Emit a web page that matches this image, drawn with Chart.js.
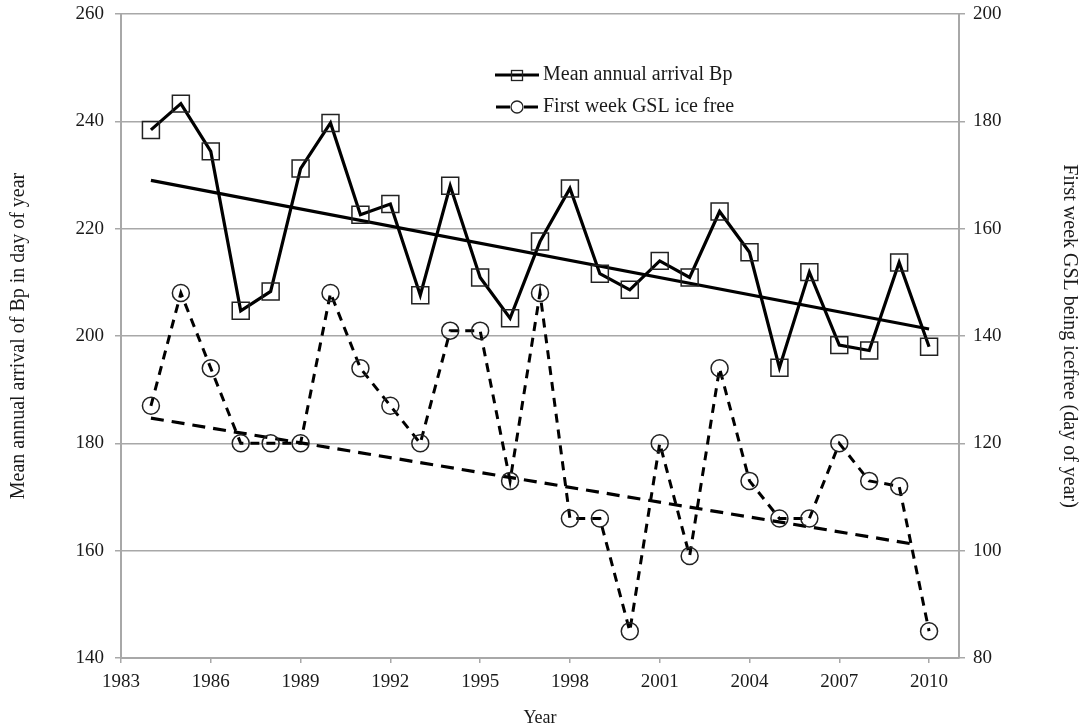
<!DOCTYPE html>
<html>
<head>
<meta charset="utf-8">
<script src="https://cdn.jsdelivr.net/npm/chart.js@4.4.1/dist/chart.umd.min.js"></script>
<style>
  html, body { margin: 0; padding: 0; background: #fff; }
  #wrap { width: 1081px; height: 727px; position: relative; }
</style>
</head>
<body>
<div id="wrap"><canvas id="c"></canvas></div>
<script>
// ---- data ----
const years = [1984,1985,1986,1987,1988,1989,1990,1991,1992,1993,1994,1995,1996,1997,1998,1999,2000,2001,2002,2003,2004,2005,2006,2007,2008,2009,2010];
const arrivalBp = [238.4,243.3,234.4,204.7,208.3,231.2,239.7,222.6,224.6,207.6,228.0,210.9,203.3,217.6,227.5,211.6,208.6,214.0,210.9,223.2,215.6,194.1,211.9,198.3,197.3,213.7,198.0];
const iceFree = [127,148,134,120,120,120,148,134,127,120,141,141,113,148,106,106,85,120,99,134,113,106,106,120,113,112,85];
const trendBpYears = [1984, 2010];
const trendBpValues = [229.0, 201.3];
const trendIceYears = [1984, 2009.5];
const trendIceValues = [124.7, 101.2];
const xTickStart = 1983, xTickEnd = 2011, xTickStep = 3;
const leftMin = 140, leftMax = 260, leftStep = 20;
const rightMin = 80, rightMax = 200, rightStep = 20;
const seriesLabels = ['Mean annual arrival Bp', 'First week GSL ice free'];
const axisTitles = { x: 'Year', left: 'Mean annual arrival of Bp in day of year', right: 'First week GSL being icefree (day of year)' };

const pts = (xs, ys) => xs.map((x, i) => ({ x: x, y: ys[i] }));

const SERIF = "'Liberation Serif', 'Times New Roman', serif";
const GRID = '#a8a8a8';
Chart.defaults.font.family = SERIF;
Chart.defaults.color = '#1a1a1a';

function makeIcon(kind) {
  const c = document.createElement('canvas');
  c.width = 46; c.height = 16;
  const g = c.getContext('2d');
  g.strokeStyle = '#000'; g.lineWidth = 3; g.lineCap = 'butt';
  if (kind === 'rect') {
    g.beginPath(); g.moveTo(1, 8); g.lineTo(45, 8); g.stroke();
    g.lineWidth = 1.3; g.strokeStyle = '#222';
    g.strokeRect(17.5, 3.5, 11, 10);
  } else {
    g.beginPath(); g.moveTo(2, 8); g.lineTo(16, 8); g.moveTo(30, 8); g.lineTo(44, 8); g.stroke();
    g.lineWidth = 1.3; g.strokeStyle = '#222'; g.fillStyle = '#fff';
    g.beginPath(); g.arc(23, 8, 6, 0, Math.PI * 2); g.fill(); g.stroke();
  }
  return c;
}
const icons = { 0: makeIcon('rect'), 2: makeIcon('circle') };

const legendPlace = {
  id: 'legendPlace',
  afterLayout(chart) {
    const lg = chart.legend;
    if (!lg) return;
    lg.left = 489; lg.right = 900;
    lg.top = 53; lg.bottom = 640;
  }
};

new Chart(document.getElementById('c'), {
  type: 'line',
  data: {
    datasets: [
      {
        label: seriesLabels[0],
        data: pts(years, arrivalBp),
        yAxisID: 'y',
        borderColor: '#000', borderWidth: 3.2,
        pointStyle: 'rect', pointRadius: 12, pointHoverRadius: 12,
        pointBackgroundColor: 'rgba(255,255,255,0)', pointBorderColor: '#222', pointBorderWidth: 1.5,
        tension: 0, fill: false
      },
      {
        label: 'trend Bp',
        data: pts(trendBpYears, trendBpValues),
        yAxisID: 'y',
        borderColor: '#000', borderWidth: 3.2,
        pointRadius: 0, tension: 0, fill: false
      },
      {
        label: seriesLabels[1],
        data: pts(years, iceFree),
        yAxisID: 'y1',
        borderColor: '#000', borderWidth: 3, borderDash: [9, 7],
        pointStyle: 'circle', pointRadius: 8.5, pointHoverRadius: 8.5,
        pointBackgroundColor: 'rgba(255,255,255,0)', pointBorderColor: '#222', pointBorderWidth: 1.5,
        tension: 0, fill: false
      },
      {
        label: 'trend ice',
        data: pts(trendIceYears, trendIceValues),
        yAxisID: 'y1',
        borderColor: '#000', borderWidth: 3.2, borderDash: [13, 8],
        pointRadius: 0, tension: 0, fill: false
      }
    ]
  },
  options: {
    responsive: true,
    maintainAspectRatio: false,
    animation: false,
    events: [],
    layout: { padding: { top: 14, left: 0, right: 0, bottom: 0 } },
    plugins: {
      tooltip: { enabled: false },
      legend: {
        position: 'chartArea',
        align: 'start',
        labels: {
          usePointStyle: true,
          pointStyleWidth: 32,
          boxHeight: 16,
          padding: 12,
          color: '#1a1a1a',
          font: { family: SERIF, size: 20 },
          generateLabels(chart) {
            const items = Chart.defaults.plugins.legend.labels.generateLabels(chart);
            return items
              .filter(it => it.datasetIndex === 0 || it.datasetIndex === 2)
              .map(it => Object.assign(it, { pointStyle: icons[it.datasetIndex] }));
          }
        }
      }
    },
    scales: {
      x: {
        type: 'linear',
        position: 'bottom',
        min: xTickStart, max: xTickEnd,
        afterFit(s) { s.height = 69; },
        ticks: { stepSize: xTickStep, includeBounds: false, padding: 8, font: { size: 19 }, color: '#1a1a1a', maxRotation: 0,
          callback: v => String(v) },
        grid: { display: true, drawOnChartArea: false, drawTicks: true, tickLength: 5, color: GRID, lineWidth: 1.5 },
        border: { display: true, color: GRID, width: 2 },
        title: { display: true, text: axisTitles.x, font: { size: 18, lineHeight: 1 }, color: '#1a1a1a', padding: { top: 0, bottom: 0 } }
      },
      y: {
        type: 'linear',
        position: 'left',
        min: leftMin, max: leftMax,
        afterFit(s) { s.width = 121; s.paddingTop = 0; s.paddingBottom = 0; },
        ticks: { stepSize: leftStep, padding: 11, font: { size: 19 }, color: '#1a1a1a' },
        grid: { display: true, drawOnChartArea: true, drawTicks: true, tickLength: 6, color: GRID, lineWidth: 1.5 },
        border: { display: true, color: GRID, width: 2 },
        title: { display: true, text: axisTitles.left, font: { size: 20, lineHeight: 1 }, color: '#1a1a1a', padding: { top: 9, bottom: 0 } }
      },
      y1: {
        type: 'linear',
        position: 'right',
        min: rightMin, max: rightMax,
        afterFit(s) { s.width = 122; s.paddingTop = 0; s.paddingBottom = 0; },
        ticks: { stepSize: rightStep, padding: 8, font: { size: 19 }, color: '#1a1a1a' },
        grid: { display: true, drawOnChartArea: false, drawTicks: true, tickLength: 6, color: GRID, lineWidth: 1.5 },
        border: { display: true, color: GRID, width: 2 },
        title: { display: true, text: axisTitles.right, font: { size: 20, lineHeight: 1 }, color: '#1a1a1a', padding: { top: 2, bottom: 0 } }
      }
    }
  },
  plugins: [legendPlace]
});
</script>
</body>
</html>
